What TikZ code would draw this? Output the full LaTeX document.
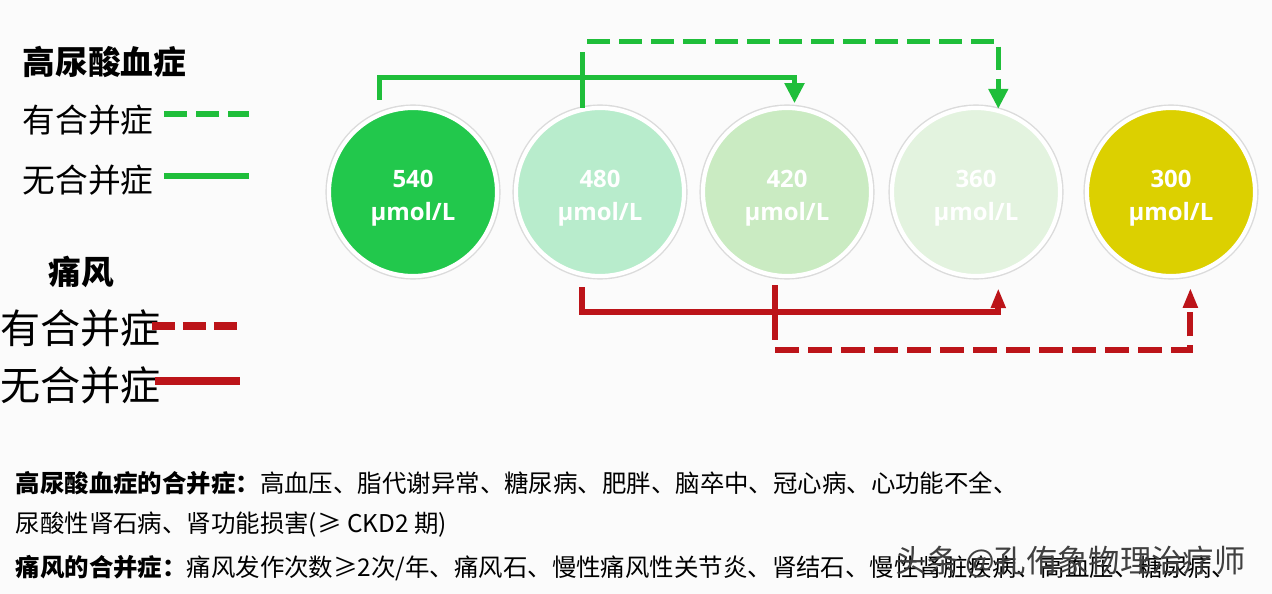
\documentclass[tikz,border=0pt]{standalone}
\usepackage{fontspec}
\setmainfont{Open Sans}
\newfontfamily\cjk{Noto Sans CJK SC}
\usetikzlibrary{arrows.meta}

\definecolor{gline}{HTML}{1FBE3A}
\definecolor{rline}{HTML}{BC1419}
\definecolor{c540}{HTML}{22C84C}
\definecolor{c480}{HTML}{B8ECCC}
\definecolor{c420}{HTML}{CAEBC2}
\definecolor{c360}{HTML}{E3F3DF}
\definecolor{c300}{HTML}{DCD000}
\definecolor{bg}{HTML}{FBFBFB}

\begin{document}
\begin{tikzpicture}[x=0.01cm, y=0.01cm,
    level/.style={circle, minimum size=1.68cm, inner sep=0pt, fill=#1,
      draw=white, line width=1.2pt, preaction={draw=black!14, line width=2pt},
      text=white, align=center, text height=0.62cm,
      font=\bfseries\fontsize{6.8}{9.2}\selectfont},
    gsolid/.style={draw=gline, line width=1.4pt},
    gdash/.style={gsolid, dash pattern=on 0.23cm off 0.09cm},
    rsolid/.style={draw=rline, line width=1.7pt},
    rdash/.style={rsolid, dash pattern=on 0.24cm off 0.09cm},
    garrow/.style={-{Triangle[width=0.19cm, length=0.2cm]}},
    rarrow/.style={-{Triangle[width=0.14cm, length=0.2cm]}},
    legend/.style={anchor=west, inner sep=0pt, font=\cjk\fontsize{9.3}{11}\selectfont},
    notes/.style={anchor=west, inner sep=0pt, font=\cjk\fontsize{6.95}{8}\selectfont}]
  \fill[bg] (0,0) rectangle (1272,-594);
  \useasboundingbox (0,0) rectangle (1272,-594);

  \node[level=c540] (c540) at (413,-192) {540\\µmol/L};
  \node[level=c480] (c480) at (600,-192) {480\\µmol/L};
  \node[level=c420] (c420) at (787,-192) {420\\µmol/L};
  \node[level=c360] (c360) at (976,-192) {360\\µmol/L};
  \node[level=c300] (c300) at (1171,-192) {300\\µmol/L};

  \draw[gsolid, garrow, shorten <=0.13cm, shorten >=0.03cm]
    (c540.113) -- ++(0,35) -| (c420.85);
  \draw[gsolid] (c480.102) -- ++(0,56) coordinate (gup);
  \draw[gdash, garrow] (gup) ++(5,10) -| (c360.75);

  \draw[rsolid, rarrow, shorten <=0.11cm, shorten >=0.13cm]
    (c480.-102) -- ++(0,-36) -| (c360.-75);
  \draw[rsolid, shorten <=0.08cm] (c420.-98) -- ++(0,-63) coordinate (rdown);
  \draw[rdash, rarrow, shorten >=0.12cm] (rdown) ++(0,-10) -| (c300.-77);

  \node[legend, font=\cjk\bfseries\fontsize{9.3}{11}\selectfont] (hua) at (22,-62) {高尿酸血症};
  \node[legend] (hua1) at (22,-120) {有合并症};
  \node[legend] (hua2) at (22,-180) {无合并症};
  \draw[gdash, line width=1.5pt] (hua1.east) ++(10,6) -- ++(85,0);
  \draw[gsolid, line width=1.5pt] (hua2.east) ++(10,4) -- ++(85,0);

  \node[legend, font=\cjk\bfseries\fontsize{9.3}{11}\selectfont] (gout) at (48,-272) {痛风};
  \node[legend, font=\cjk\fontsize{11.4}{13}\selectfont] (gout1) at (0,-328) {有合并症};
  \node[legend, font=\cjk\fontsize{11.4}{13}\selectfont] (gout2) at (0,-385) {无合并症};
  \draw[rdash, line width=2.1pt, dash pattern=on 0.23cm off 0.08cm] (gout1.east) ++(-10,2) -- ++(90,0);
  \draw[rsolid, line width=2.1pt] (gout2.east) ++(-7,4) -- ++(85,0);

  \node[notes] (n1) at (15,-483) {{\bfseries 高尿酸血症的合并症：}高血压、脂代谢异常、糖尿病、肥胖、脑卒中、冠心病、心功能不全、};
  \node[notes] (n2) at (15,-525) {尿酸性肾石病、肾功能损害(≥ CKD2 期)};
  \node[notes] (n3) at (15,-568) {{\bfseries 痛风的合并症：}痛风发作次数≥2次/年、痛风石、慢性痛风性关节炎、肾结石、慢性肾脏疾病、高血压、糖尿病、};
  \node[notes, font=\cjk\fontsize{8.9}{10}\selectfont, text=black!75] (mark) at (895,-562) {头条 @孔侑象物理治疗师};
\end{tikzpicture}
\end{document}
